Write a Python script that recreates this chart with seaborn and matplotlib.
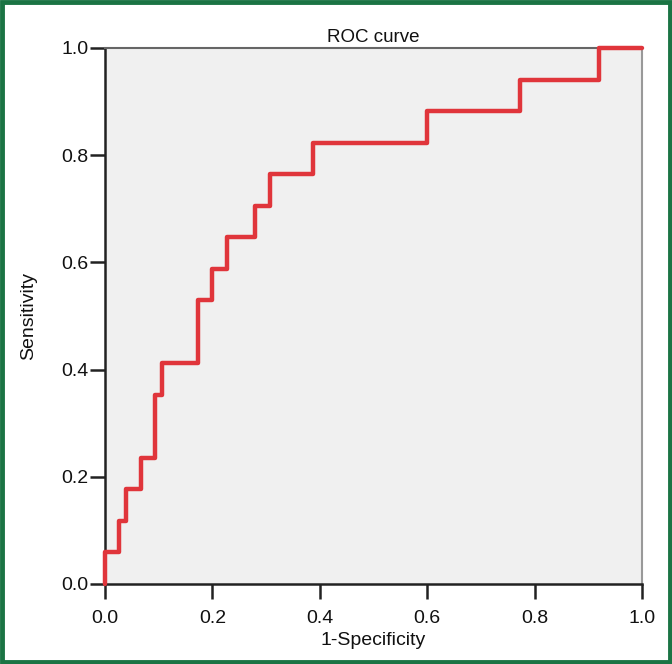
import matplotlib
matplotlib.use("Agg")
import matplotlib.pyplot as plt
import seaborn as sns
from matplotlib.patches import Rectangle

# ROC points (corner after each vertical step)
fpr = [0, 0, 2/75, 3/75, 5/75, 7/75, 8/75, 13/75, 15/75, 17/75,
       21/75, 23/75, 29/75, 45/75, 58/75, 69/75, 1]
tpr = [0, 1/17, 2/17, 3/17, 4/17, 6/17, 7/17, 9/17, 10/17, 11/17,
       12/17, 13/17, 14/17, 15/17, 16/17, 1, 1]
ticks = [0.0, 0.2, 0.4, 0.6, 0.8, 1.0]
tick_labels = ["0.0", "0.2", "0.4", "0.6", "0.8", "1.0"]

sns.set_style("white")
plt.rcParams['font.family'] = ['Liberation Sans', 'DejaVu Sans']

fig = plt.figure(figsize=(6.72, 6.64), dpi=100)
ax = fig.add_axes([105/672, 1 - 584/664, 537/672, 536/664])
ax.set_facecolor('#f0f0f0')

sns.lineplot(x=fpr, y=tpr, estimator=None, sort=False, drawstyle='steps-post',
             color='#e0353b', linewidth=3.2, ax=ax, clip_on=False, zorder=5)

ax.set_xlim(0, 1)
ax.set_ylim(0, 1)
ax.set_xticks(ticks)
ax.set_xticklabels(tick_labels)
ax.set_yticks(ticks)
ax.set_yticklabels(tick_labels)
ax.tick_params(axis='both', direction='out', length=11, width=1.8, color='#222222',
               labelsize=14, pad=1, labelcolor='#111111', bottom=True, left=True)
ax.tick_params(axis='x', pad=8)

for side in ['left', 'bottom']:
    ax.spines[side].set_color('#222222')
    ax.spines[side].set_linewidth(1.8)
ax.spines['top'].set_color('#666666')
ax.spines['top'].set_linewidth(1.5)
ax.spines['right'].set_color('#999999')
ax.spines['right'].set_linewidth(1.5)

ax.set_title('ROC curve', fontsize=13.5, pad=4, color='#111111')
ax.set_xlabel('1-Specificity', fontsize=14, labelpad=3, color='#111111')
ax.set_ylabel('Sensitivity', fontsize=14, labelpad=17, color='#111111')

fig.patches.append(Rectangle((0.003, 0.003), 0.994, 0.994, transform=fig.transFigure,
                             fill=False, edgecolor='#1b7444', linewidth=3.5))

fig.savefig('out.png', dpi=100)
